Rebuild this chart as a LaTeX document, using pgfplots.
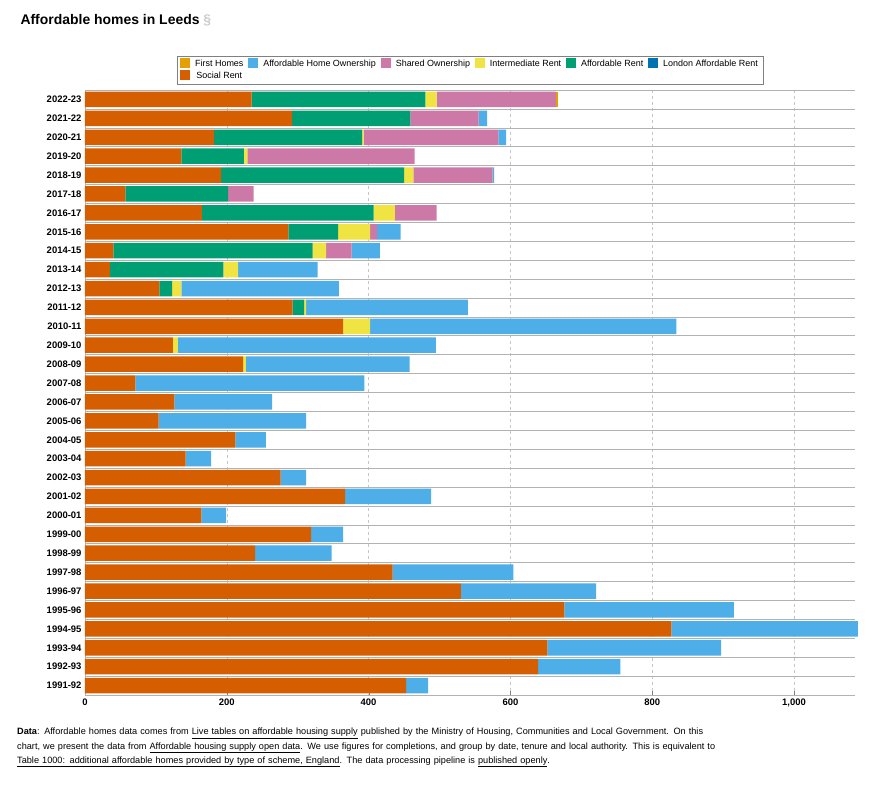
\documentclass[border=0pt]{standalone}
\usepackage{pgfplots}
\pgfplotsset{compat=1.18}
\usepackage{pgfplotstable}
\usepackage{fontspec}
\setmainfont{Liberation Sans}
\definecolor{cFH}{HTML}{E69F00}
\definecolor{cAHO}{HTML}{4DAEE8}
\definecolor{cSO}{HTML}{CC79A7}
\definecolor{cIR}{HTML}{F0E442}
\definecolor{cAR}{HTML}{009E73}
\definecolor{cLAR}{HTML}{0072B2}
\definecolor{cSR}{HTML}{D55E00}
\pgfplotstableread{
y SR LAR AR IR SO AHO FH
0 235 0 245 16 168 0 3
1 292 0 167 0 96 12 0
2 182 0 209 2 190 11 0
3 136 0 88 5 236 0 0
4 192 0 258 13 112 2 0
5 57 0 145 0 36 0 0
6 165 0 242 30 59 0 0
7 287 0 70 45 10 33 0
8 40 0 281 19 36 40 0
9 35 0 160 21 0 112 0
10 105 0 18 13 0 222 0
11 293 0 16 3 0 228 0
12 364 0 0 38 0 432 0
13 124 0 0 7 0 364 0
14 223 0 0 4 0 231 0
15 71 0 0 0 0 323 0
16 126 0 0 0 0 138 0
17 104 0 0 0 0 208 0
18 212 0 0 0 0 43 0
19 142 0 0 0 0 36 0
20 276 0 0 0 0 36 0
21 367 0 0 0 0 121 0
22 164 0 0 0 0 35 0
23 319 0 0 0 0 45 0
24 240 0 0 0 0 108 0
25 434 0 0 0 0 170 0
26 530 0 0 0 0 191 0
27 676 0 0 0 0 239 0
28 827 0 0 0 0 263 0
29 652 0 0 0 0 245 0
30 639 0 0 0 0 116 0
31 453 0 0 0 0 31 0
}\data
\begin{document}
\begin{tikzpicture}
\begin{axis}[
  at={(0,0)}, anchor=origin, scale only axis,
  width=770bp, height=605bp,
  xbar stacked, bar width=0.82,
  xmin=0, xmax=1086, ymin=-0.5, ymax=31.5, y dir=reverse,
  ytick={0,...,31},
  yticklabels={2022-23,2021-22,2020-21,2019-20,2018-19,2017-18,2016-17,2015-16,2014-15,2013-14,2012-13,2011-12,2010-11,2009-10,2008-09,2007-08,2006-07,2005-06,2004-05,2003-04,2002-03,2001-02,2000-01,1999-00,1998-99,1997-98,1996-97,1995-96,1994-95,1993-94,1992-93,1991-92},
  yticklabel style={font=\fontsize{9.5}{11}\selectfont\bfseries},
  xticklabel style={font=\fontsize{9.5}{11}\selectfont\bfseries},
  /pgf/number format/assume math mode=true,
  minor ytick={-0.5,0.5,...,31.5},
  yminorgrids, minor grid style={gray!60, line width=0.6pt},
  xtick={0,200,...,1000}, xmajorgrids,
  major grid style={gray!45, dashed},
  ytick style={draw=none}, minor tick length=0pt,
  xtick style={gray}, xtick pos=bottom,
  axis line style={gray!60},
  axis x line*=bottom, axis y line*=left,
  legend style={at={(0.5,1.01)}, anchor=south, legend columns=6,
    font=\fontsize{9}{11}\selectfont, draw=gray, column sep=3pt},
  area legend,
  legend image code/.code={\fill[#1] (0pt,-4pt) rectangle (10pt,6pt);},
  reverse legend,
  clip=false,
]
\addplot[fill=cSR, draw=none] table[x=SR,y=y]{\data};
\addlegendentry{Social Rent}
\addplot[fill=cLAR, draw=none] table[x=LAR,y=y]{\data};
\addlegendentry{London Affordable Rent}
\addplot[fill=cAR, draw=none] table[x=AR,y=y]{\data};
\addlegendentry{Affordable Rent}
\addplot[fill=cIR, draw=none] table[x=IR,y=y]{\data};
\addlegendentry{Intermediate Rent}
\addplot[fill=cSO, draw=none] table[x=SO,y=y]{\data};
\addlegendentry{Shared Ownership}
\addplot[fill=cAHO, draw=none] table[x=AHO,y=y]{\data};
\addlegendentry{Affordable Home Ownership}
\addplot[fill=cFH, draw=none] table[x=FH,y=y]{\data};
\addlegendentry{First Homes}
\coordinate (SW) at (rel axis cs:0,0);
\coordinate (NW) at (rel axis cs:0,1);
\end{axis}
\path[use as bounding box] ([xshift=-85bp,yshift=-116bp]SW) rectangle ([xshift=802bp,yshift=90bp]NW);
\node[anchor=west, font=\fontsize{14}{16}\selectfont\bfseries] at ([xshift=-68bp,yshift=70bp]NW) {Affordable homes in Leeds \textcolor{gray!40}{\S}};
\node[anchor=north west, text width=845bp, align=left, inner sep=0pt, font=\fontsize{9.2}{14.3}\selectfont] at ([xshift=-68bp,yshift=-33bp]SW)
{\textbf{Data}: Affordable homes data comes from \underline{Live tables on affordable housing supply} published by the Ministry of Housing, Communities and Local Government. On this chart, we present the data from \underline{Affordable housing supply open data}. We use figures for completions, and group by date, tenure and local authority. This is equivalent to \underline{Table 1000: additional affordable homes provided by type of scheme, England}. The data processing pipeline is \underline{published openly}.};
\end{tikzpicture}
\end{document}
